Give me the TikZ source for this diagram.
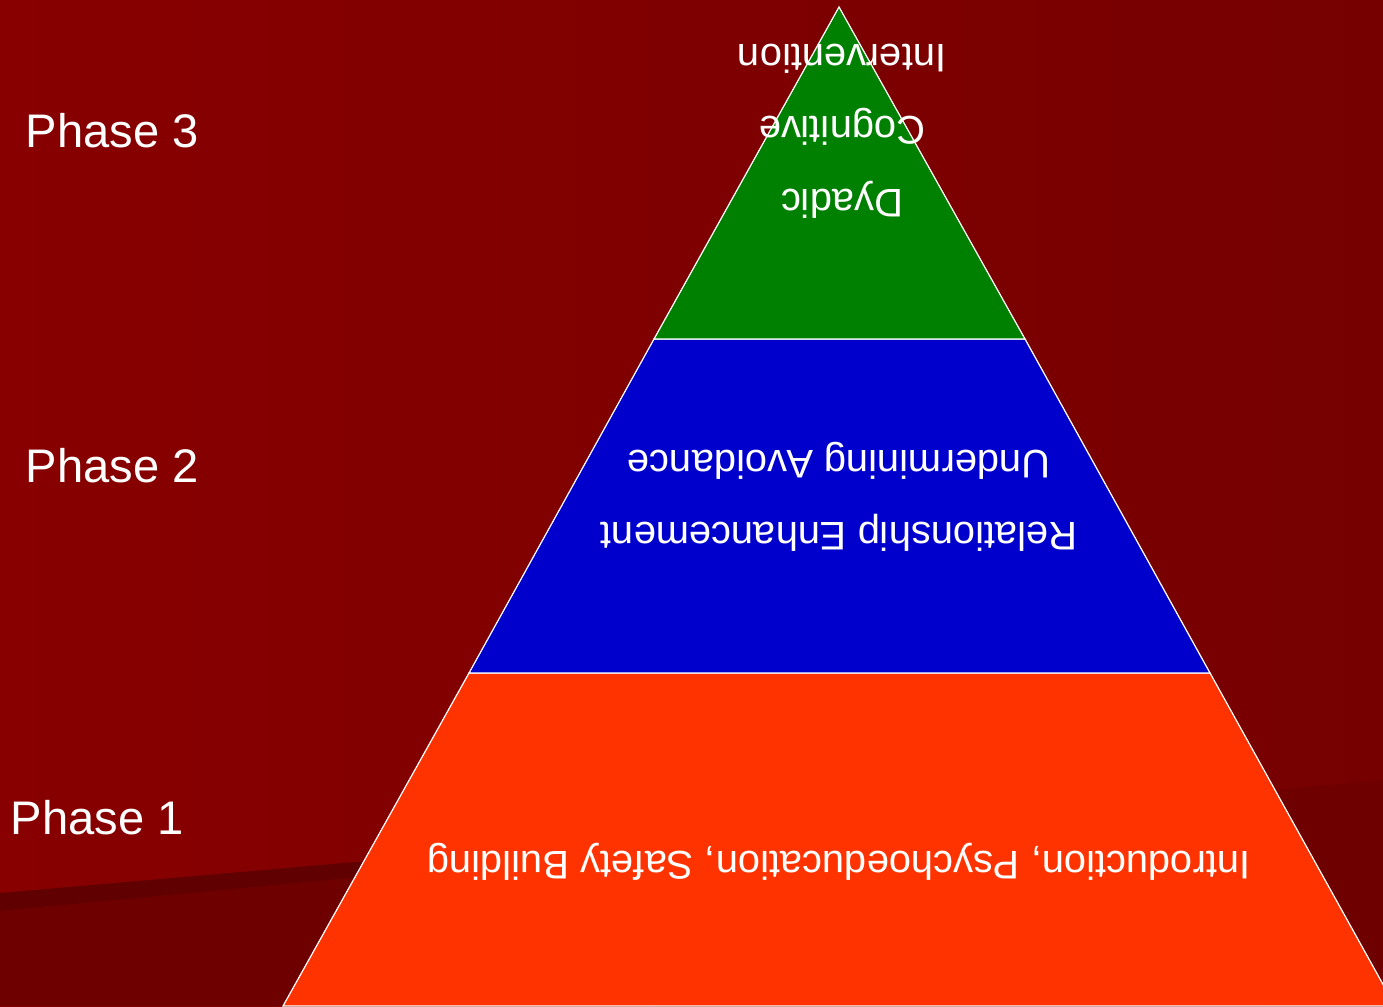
\documentclass[tikz,border=0pt]{standalone}
\usepackage{fontspec}
\setmainfont{Liberation Sans}
\usetikzlibrary{calc,positioning}
\definecolor{bgleft}{HTML}{880000}
\definecolor{bgright}{HTML}{760000}
\definecolor{bglow}{HTML}{6E0000}
\definecolor{stripe}{HTML}{600000}
\definecolor{lvlgreen}{HTML}{008000}
\definecolor{lvlblue}{HTML}{0000CC}
\definecolor{lvlorange}{HTML}{FF3300}
\tikzset{
  layer/.style={draw=white, line width=0.35pt},
  phaselabel/.style={text=white, font=\fontsize{13.4}{16}\selectfont, anchor=west, inner sep=0pt},
  flipped/.style={text=white, font=\fontsize{11.35}{20.6}\selectfont, align=center, rotate=180, inner sep=0pt}
}
\begin{document}
\begin{tikzpicture}[x=0.01cm, y=-0.01cm]
\useasboundingbox (0,0) rectangle (1383,1006);
\clip (0,0) rectangle (1383,1006);
% background
\shade[left color=bgleft, right color=bgright] (0,0) rectangle (1383,1006);
\fill[bglow] (0,911) -- (700,845) -- (1383,780) -- (1383,1006) -- (0,1006) -- cycle;
\fill[stripe] (0,893) -- (700,832) -- (700,845) -- (0,911) -- cycle;
% pyramid corners
\coordinate (apex) at (839,7);
\coordinate (gl) at (654,339);
\coordinate (gr) at (1025,339);
\coordinate (bl) at (469,673);
\coordinate (br) at (1210,673);
\coordinate (ol) at (283,1006);
\coordinate (or) at (1395,1006);
% layers
\fill[lvlorange, layer] (bl) -- (br) -- (or) -- (ol) -- cycle;
\fill[lvlblue, layer] (gl) -- (gr) -- (br) -- (bl) -- cycle;
\fill[lvlgreen, layer] (apex) -- (gr) -- (gl) -- cycle;
% texts
\node[flipped] (top) at (842,131) {Dyadic\\Cognitive\\Intervention};
\node[flipped] (mid) at (839,497) {Relationship Enhancement\\Undermining Avoidance};
\node[flipped] (low) at (839,862) {Introduction, Psychoeducation, Safety Building};
\node[phaselabel] (p3) at (25,131) {Phase 3};
\node[phaselabel] (p2) at (25,466) {Phase 2};
\node[phaselabel] (p1) at (10,818) {Phase 1};
\end{tikzpicture}
\end{document}
